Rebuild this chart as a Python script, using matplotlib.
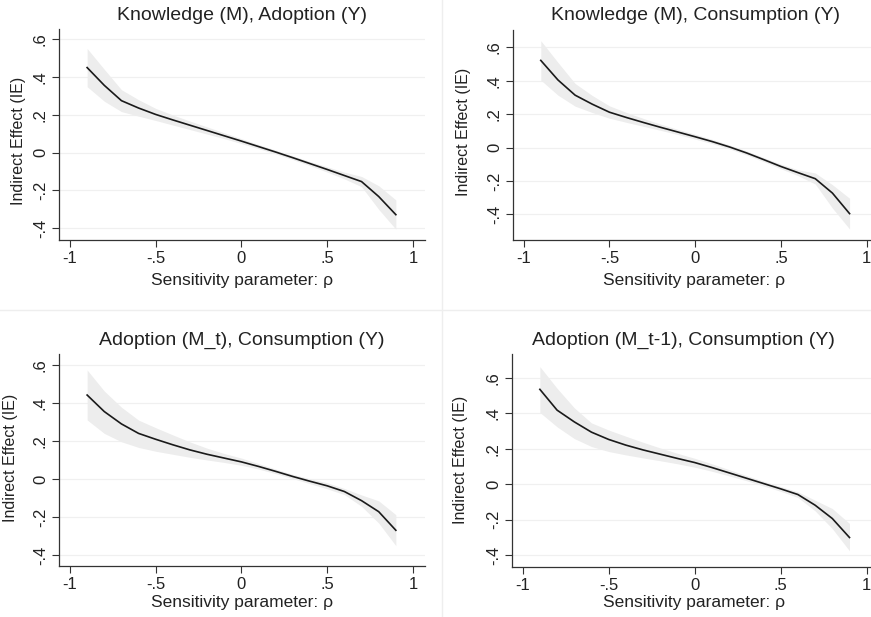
import matplotlib
matplotlib.use("Agg")
import matplotlib.pyplot as plt
from matplotlib.lines import Line2D

plt.rcParams['font.family'] = ['Liberation Sans', 'DejaVu Sans']

rho = [-0.9, -0.8, -0.7, -0.6, -0.5, -0.4, -0.3, -0.2, -0.1, 0.0,
       0.1, 0.2, 0.3, 0.4, 0.5, 0.6, 0.7, 0.8, 0.9]

titles = ["Knowledge (M), Adoption (Y)",
          "Knowledge (M), Consumption (Y)",
          "Adoption (M_t), Consumption (Y)",
          "Adoption (M_t-1), Consumption (Y)"]

# Knowledge (M), Adoption (Y)
ie1 = [0.450, 0.356, 0.275, 0.236, 0.202, 0.173, 0.145, 0.117, 0.089, 0.061,
       0.032, 0.003, -0.027, -0.058, -0.089, -0.121, -0.153, -0.232, -0.328]
lo1 = [0.349, 0.272, 0.217, 0.193, 0.170, 0.146, 0.122, 0.098, 0.074, 0.048,
       0.021, -0.007, -0.037, -0.069, -0.103, -0.139, -0.180, -0.300, -0.405]
hi1 = [0.551, 0.441, 0.333, 0.280, 0.234, 0.199, 0.167, 0.136, 0.105, 0.074,
       0.043, 0.013, -0.017, -0.047, -0.075, -0.103, -0.126, -0.175, -0.250]

# Knowledge (M), Consumption (Y)
ie2 = [0.522, 0.405, 0.314, 0.260, 0.212, 0.180, 0.150, 0.121, 0.093, 0.065,
       0.036, 0.004, -0.032, -0.072, -0.113, -0.150, -0.186, -0.272, -0.395]
lo2 = [0.404, 0.314, 0.248, 0.210, 0.176, 0.151, 0.127, 0.103, 0.078, 0.051,
       0.024, -0.008, -0.044, -0.084, -0.127, -0.168, -0.218, -0.362, -0.487]
hi2 = [0.640, 0.510, 0.384, 0.312, 0.250, 0.210, 0.174, 0.140, 0.109, 0.080,
       0.049, 0.016, -0.020, -0.060, -0.099, -0.133, -0.152, -0.222, -0.303]

# Adoption (M_t), Consumption (Y)
ie3 = [0.442, 0.355, 0.290, 0.240, 0.209, 0.180, 0.153, 0.130, 0.110, 0.090,
       0.066, 0.040, 0.013, -0.012, -0.036, -0.066, -0.114, -0.172, -0.270]
lo3 = [0.311, 0.240, 0.196, 0.166, 0.146, 0.130, 0.114, 0.100, 0.087, 0.072,
       0.052, 0.028, 0.002, -0.025, -0.052, -0.082, -0.144, -0.232, -0.351]
hi3 = [0.574, 0.463, 0.378, 0.310, 0.270, 0.232, 0.195, 0.162, 0.134, 0.110,
       0.081, 0.052, 0.024, 0.001, -0.020, -0.050, -0.084, -0.115, -0.188]

# Adoption (M_t-1), Consumption (Y)
ie4 = [0.534, 0.417, 0.351, 0.293, 0.252, 0.220, 0.193, 0.169, 0.145, 0.122,
       0.094, 0.064, 0.034, 0.004, -0.026, -0.058, -0.118, -0.193, -0.300]
lo4 = [0.404, 0.323, 0.257, 0.212, 0.184, 0.165, 0.148, 0.132, 0.115, 0.096,
       0.073, 0.047, 0.020, -0.010, -0.040, -0.075, -0.150, -0.250, -0.375]
hi4 = [0.662, 0.540, 0.430, 0.345, 0.305, 0.270, 0.236, 0.204, 0.174, 0.146,
       0.115, 0.082, 0.049, 0.017, -0.013, -0.043, -0.090, -0.137, -0.221]

xticks = [-1, -0.5, 0, 0.5, 1]
xticklabels = ["-1", "-.5", "0", ".5", "1"]
yticks = [-0.4, -0.2, 0, 0.2, 0.4, 0.6]
yticklabels = ["-.4", "-.2", "0", ".2", ".4", ".6"]

W, H = 871, 617
fig = plt.figure(figsize=(W / 100, H / 100), dpi=100)


def box(l, t, r, b):
    return [l / W, 1 - b / H, (r - l) / W, (b - t) / H]


# pixel boxes (left, top, right, bottom), axis limits, label positions
panels = [
    dict(rect=box(59, 29, 425, 240), xlim=(-1.064, 1.07), ylim=(-0.462, 0.654),
         ie=ie1, lo=lo1, hi=hi1, title=(242, 15), xlab=(242, 280), ylab=(19, 141)),
    dict(rect=box(513, 30, 871, 240), xlim=(-1.062, 1.025), ylim=(-0.553, 0.704),
         ie=ie2, lo=lo2, hi=hi2, title=(695, 15), xlab=(694, 280), ylab=(463, 132)),
    dict(rect=box(59, 354, 425, 566), xlim=(-1.064, 1.07), ylim=(-0.458, 0.658),
         ie=ie3, lo=lo3, hi=hi3, title=(242, 340), xlab=(242, 603), ylab=(11, 458)),
    dict(rect=box(512, 354, 871, 567), xlim=(-1.062, 1.025), ylim=(-0.466, 0.733),
         ie=ie4, lo=lo4, hi=hi4, title=(683, 340), xlab=(694, 603), ylab=(460, 460)),
]

for p, title in zip(panels, titles):
    ax = fig.add_axes(p["rect"])
    ax.fill_between(rho, p["lo"], p["hi"], color="#ededed", linewidth=0, zorder=1)
    ax.plot(rho, p["ie"], color="#1a1a1a", linewidth=1.2, zorder=3)
    ax.set_xlim(p["xlim"])
    ax.set_ylim(p["ylim"])
    ax.set_xticks(xticks)
    ax.set_xticklabels(xticklabels)
    ax.set_yticks(yticks)
    ax.set_yticklabels(yticklabels, rotation=90, va="center")
    ax.grid(axis="y", color="#f0f0f0", linewidth=0.9, zorder=0)
    ax.set_axisbelow(True)
    for s in ["top", "right"]:
        ax.spines[s].set_visible(False)
    for s in ["left", "bottom"]:
        ax.spines[s].set_color("#333333")
        ax.spines[s].set_linewidth(0.9)
    ax.tick_params(direction="out", length=5, width=0.8, color="#333333",
                   labelsize=12, pad=3, labelcolor="#222222")
    tx, ty = p["title"]
    fig.text(tx / W, 1 - ty / H, title, ha="center", va="center",
             fontsize=14, color="#222222")
    lx, ly = p["xlab"]
    fig.text(lx / W, 1 - ly / H, "Sensitivity parameter: \u03c1", ha="center",
             va="center", fontsize=12.5, color="#222222")
    yx, yy = p["ylab"]
    fig.text(yx / W, 1 - yy / H, "Indirect Effect (IE)", ha="center",
             va="center", rotation=90, fontsize=11.5, color="#222222")

# faint seams between the four pasted panels
fig.add_artist(Line2D([442 / W, 442 / W], [0, 1], color="#eeeeee", linewidth=1))
fig.add_artist(Line2D([0, 1], [1 - 310 / H, 1 - 310 / H], color="#eeeeee", linewidth=1))

fig.savefig("out.png", dpi=100)
